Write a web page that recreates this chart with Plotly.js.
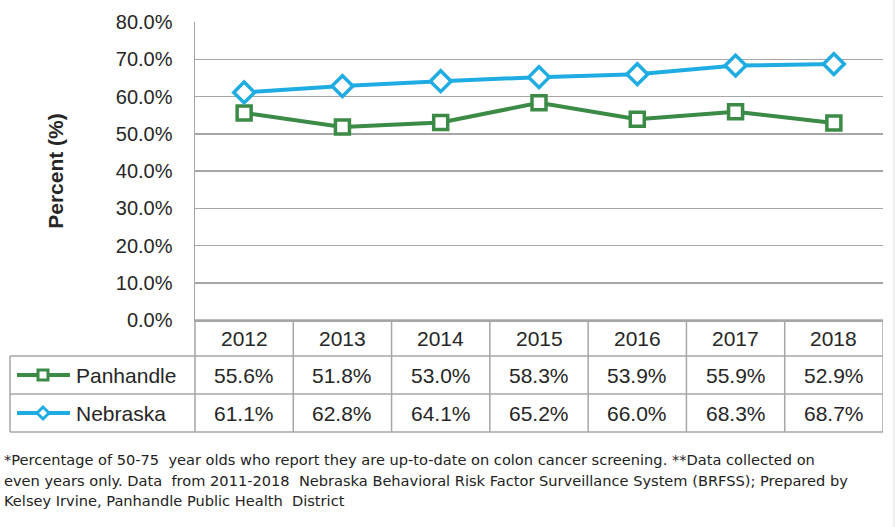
<!DOCTYPE html>
<html>
<head>
<meta charset="utf-8">
<script src="https://cdn.plot.ly/plotly-3.0.1.min.js"></script>
<style>html,body{margin:0;padding:0;background:#fff;}#chart{width:895px;height:527px;}</style>
</head>
<body>
<div id="chart"></div>
<script>
// ---- data ----
const years = ["2012", "2013", "2014", "2015", "2016", "2017", "2018"];
const panhandle = [55.6, 51.8, 53.0, 58.3, 53.9, 55.9, 52.9];
const nebraska = [61.1, 62.8, 64.1, 65.2, 66.0, 68.3, 68.7];
const seriesNames = ["Panhandle", "Nebraska"];
const yTitle = "Percent (%)";
const footnoteLines = [
  "*Percentage of 50-75  year olds who report they are up-to-date on colon cancer screening. **Data collected on",
  "even years only. Data  from 2011-2018  Nebraska Behavioral Risk Factor Surveillance System (BRFSS); Prepared by",
  "Kelsey Irvine, Panhandle Public Health  District"
];

// ---- styles / layout helpers ----
const W = 895, H = 527;
const L = 195, R = 883, T = 22, B = 320;
const GREEN = "#3B8A45", BLUE = "#1FACE3", GRID = "#A6A6A6", TXT = "#262626";
const X = px => (px - L) / (R - L);
const Y = py => (B - py) / (B - T);
const rowTops = [320, 356, 394, 432];
const tableLeft = 10;
const FONT = "Liberation Sans, Arial, sans-serif";

const traces = [
  {x: years, y: panhandle, name: seriesNames[0], type: "scatter", mode: "lines+markers",
   line: {color: GREEN, width: 4}, marker: {symbol: "square", size: 14, color: "#fff", line: {color: GREEN, width: 3.5}},
   hoverinfo: "skip"},
  {x: years, y: nebraska, name: seriesNames[1], type: "scatter", mode: "lines+markers",
   line: {color: BLUE, width: 4}, marker: {symbol: "diamond", size: 16, color: "#fff", line: {color: BLUE, width: 3.5}},
   hoverinfo: "skip"}
];

const shapes = [];
const annotations = [];
// horizontal table lines
shapes.push({type: "line", xref: "paper", yref: "paper", x0: X(L), x1: X(R), y0: Y(rowTops[0]), y1: Y(rowTops[0]), line: {color: GRID, width: 1.5}});
for (let r = 1; r < rowTops.length; r++) {
  shapes.push({type: "line", xref: "paper", yref: "paper", x0: X(tableLeft), x1: X(R), y0: Y(rowTops[r]), y1: Y(rowTops[r]), line: {color: GRID, width: 1.5}});
}
// vertical table lines
shapes.push({type: "line", xref: "paper", yref: "paper", x0: X(tableLeft), x1: X(tableLeft), y0: Y(rowTops[1]), y1: Y(rowTops[3]), line: {color: GRID, width: 1.5}});
shapes.push({type: "line", xref: "paper", yref: "paper", x0: 0, x1: 0, y0: Y(rowTops[0]), y1: Y(rowTops[3]), line: {color: GRID, width: 1.5}});
for (let i = 0; i < years.length; i++) {
  shapes.push({type: "line", xref: "x", yref: "paper", x0: i + 0.5, x1: i + 0.5, y0: Y(rowTops[0]), y1: Y(rowTops[3]), line: {color: GRID, width: 1.5}});
}
// outer faint border at right
shapes.push({type: "line", xref: "paper", yref: "paper", x0: X(894), x1: X(894), y0: Y(0), y1: Y(527), line: {color: "#E2E2E2", width: 1}});

// header years and values
const rowsData = [panhandle, nebraska];
years.forEach((yr, i) => {
  annotations.push({xref: "x", yref: "paper", x: i, y: Y((rowTops[0] + rowTops[1]) / 2), text: yr, showarrow: false,
    xanchor: "center", yanchor: "middle", font: {family: FONT, size: 21, color: TXT}});
  rowsData.forEach((vals, r) => {
    annotations.push({xref: "x", yref: "paper", x: i, y: Y((rowTops[r + 1] + rowTops[r + 2]) / 2), text: vals[i].toFixed(1) + "%",
      showarrow: false, xanchor: "center", yanchor: "middle", font: {family: FONT, size: 21, color: TXT}});
  });
});
// legend keys in table
const colors = [GREEN, BLUE];
seriesNames.forEach((nm, r) => {
  const cy = (rowTops[r + 1] + rowTops[r + 2]) / 2;
  shapes.push({type: "line", xref: "paper", yref: "paper", x0: X(17), x1: X(70), y0: Y(cy), y1: Y(cy), line: {color: colors[r], width: 4}});
  if (r === 0) {
    shapes.push({type: "rect", xref: "paper", yref: "paper", x0: X(38), x1: X(48), y0: Y(cy - 5), y1: Y(cy + 5), fillcolor: "#fff", line: {color: colors[r], width: 3}});
  } else {
    const cx = 43, d = 6;
    shapes.push({type: "path", xref: "paper", yref: "paper",
      path: `M ${X(cx - d)} ${Y(cy)} L ${X(cx)} ${Y(cy - d)} L ${X(cx + d)} ${Y(cy)} L ${X(cx)} ${Y(cy + d)} Z`,
      fillcolor: "#fff", line: {color: colors[r], width: 3}});
  }
  annotations.push({xref: "paper", yref: "paper", x: X(74), y: Y(cy), text: nm, showarrow: false,
    xanchor: "left", yanchor: "middle", font: {family: FONT, size: 21, color: TXT}});
});
// footnote
const footY = [459, 480, 501];
footnoteLines.forEach((t, k) => {
  annotations.push({xref: "paper", yref: "paper", x: X(2), y: Y(footY[k]), text: t, showarrow: false,
    xanchor: "left", yanchor: "middle", font: {family: "DejaVu Sans, sans-serif", size: 14.6, color: "#222"}});
});

const layout = {
  width: W, height: H,
  margin: {l: L, r: W - R, t: T, b: H - B, pad: 0},
  paper_bgcolor: "#fff", plot_bgcolor: "#fff",
  showlegend: false,
  xaxis: {type: "category", range: [-0.5, years.length - 0.5], showticklabels: false, ticks: "",
    showgrid: false, zeroline: false, showline: true, linecolor: GRID, linewidth: 1.5, fixedrange: true},
  yaxis: {range: [0, 80], dtick: 10, tick0: 0, tickformat: ".1f", ticksuffix: "%",
    showgrid: true, gridcolor: GRID, gridwidth: 1.5, zeroline: false,
    showline: true, linecolor: GRID, linewidth: 1.5, ticks: "outside", ticklen: 17, tickcolor: "rgba(0,0,0,0)",
    tickfont: {family: FONT, size: 20, color: TXT},
    title: {text: yTitle, font: {family: FONT, size: 21, color: TXT, weight: "bold"}, standoff: 46}, fixedrange: true},
  shapes: shapes,
  annotations: annotations
};

Plotly.newPlot("chart", traces, layout, {displayModeBar: false, staticPlot: true});
</script>
</body>
</html>
